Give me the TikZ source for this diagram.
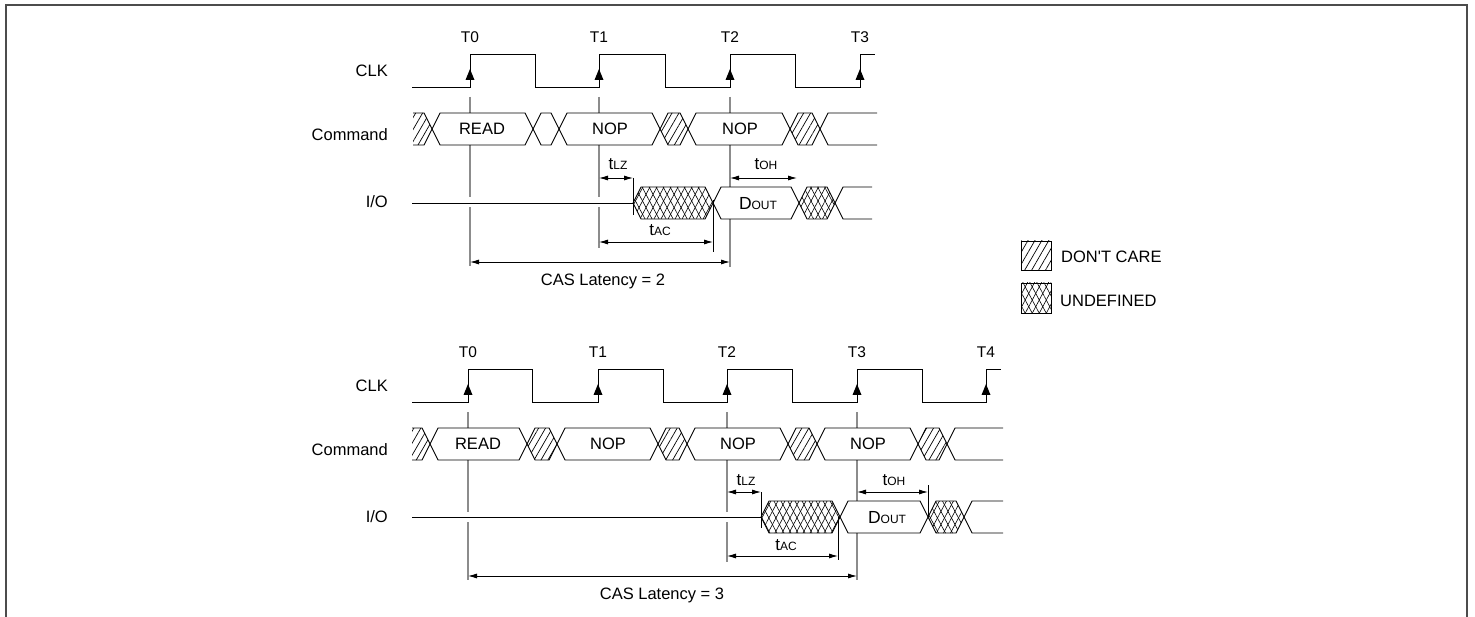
\documentclass[tikz,border=0pt]{standalone}
\usepackage{fontspec}
\setmainfont{Liberation Sans}
\usetikzlibrary{arrows.meta,patterns.meta}
\definecolor{refgray}{gray}{0.55}
\definecolor{framegray}{gray}{0.3}
\newcommand\sbs[1]{{\fontsize{12}{12}\selectfont #1}}
% hexagon: [style]{left vertex}{right vertex}{centre y}
\newcommand\hexa[4][]{\draw[sig,#1] (#2,#4) -- ({#2+8},{#4-16}) -- ({#3-8},{#4-16}) -- (#3,#4) -- ({#3-8},{#4+16}) -- ({#2+8},{#4+16}) -- cycle;}
\begin{document}
\begin{tikzpicture}[x=1pt,y=-1pt,
  sig/.style={line width=0.9pt,black,line join=miter},
  refl/.style={line width=1.3pt,refgray},
  dim/.style={line width=0.8pt,{Latex[length=9pt,width=5pt]}-{Latex[length=9pt,width=5pt]}},
  lab/.style={font=\fontsize{16.5}{19}\selectfont,inner sep=0pt,text depth=0pt},
  tl/.style={font=\fontsize{15.5}{18}\selectfont,inner sep=0pt,text depth=0pt},
  dc/.style={pattern={Lines[angle=60,distance=6pt,line width=0.7pt]}},
  ud/.style={pattern={Lines[angle=62,distance=6.2pt,line width=0.6pt]},
             postaction={pattern={Lines[angle=-62,distance=6.2pt,line width=0.6pt]}}}]
\useasboundingbox (0,0) rectangle (1475,617);
% frame
\draw[line width=1.5pt,framegray] (6,617) -- (6,5) -- (1467,5) -- (1467,617);

% ================= TOP DIAGRAM =================
\node[lab,anchor=east] (clkA) at (388,71) {CLK};
\node[lab,anchor=east] (cmdA) at (388,135) {Command};
\node[lab,anchor=east] (ioA) at (388,202) {I/O};
\foreach \x/\t in {470/T0,599/T1,730/T2,860/T3}
  \node[tl] (tA\t) at (\x,37) {\t};
% clock
\draw[sig] (412,87) -- (470,87) -- (470,54) -- (535,54) -- (535,87) -- (599,87) -- (599,54)
  -- (665,54) -- (665,87) -- (730,87) -- (730,54) -- (795,54) -- (795,87) -- (860,87)
  -- (860,54) -- (875,54);
\foreach \x in {470,599,730,860}
  \fill (\x,69) -- ({\x-4.5},80) -- ({\x+4.5},80) -- cycle;
% reference lines
\foreach \x in {470,599,730} \draw[refl] (\x,97) -- (\x,113);
\draw[refl] (470,145) -- (470,197) (470,207) -- (470,266);
\draw[refl] (599,145) -- (599,197) (599,207) -- (599,248);
\draw[refl] (730,145) -- (730,187) (730,219) -- (730,267);
% command bus
\fill[dc] (413,113) -- (424,113) -- (432,129) -- (424,145) -- (413,145) -- cycle;
\draw[sig] (413,113) -- (424,113) -- (432,129) -- (424,145) -- (413,145);
\hexa{432}{533}{129}
\hexa{533}{559}{129}
\hexa{559}{660}{129}
\hexa[dc]{660}{688}{129}
\hexa{688}{790}{129}
\hexa[dc]{790}{820}{129}
\draw[sig] (877,113) -- (828,113) -- (820,129) -- (828,145) -- (877,145);
\node[lab] (readA) at (482,129) {READ};
\node[lab] (nopA1) at (610,129) {NOP};
\node[lab] (nopA2) at (740,129) {NOP};
% I/O
\draw[sig] (412,203) -- (633,203);
\hexa[ud]{633}{713}{203}
\hexa{713}{799}{203}
\hexa[ud]{799}{835}{203}
\draw[sig] (872,187) -- (843,187) -- (835,203) -- (843,219) -- (872,219);
\node[lab,font=\fontsize{17.5}{20}\selectfont] (doutA) at (758,203) {D\sbs{OUT}};
% timing marks
\draw[sig] (633,178) -- (633,215);
\draw[sig] (713,200) -- (713,252);
\coordinate (lzA1) at (599,178); \coordinate (lzA2) at (633,178);
\coordinate (ohA1) at (730,178); \coordinate (ohA2) at (797,178);
\coordinate (acA1) at (599,242); \coordinate (acA2) at (713,242);
\coordinate (clA1) at (470,262); \coordinate (clA2) at (730,262);
\draw[dim] (lzA1) -- (lzA2);
\draw[dim] (ohA1) -- (ohA2);
\draw[dim] (acA1) -- (acA2);
\draw[dim] (clA1) -- (clA2);
\node[lab,font=\fontsize{17}{20}\selectfont] (tlzA) at (618,164) {t\sbs{LZ}};
\node[lab,font=\fontsize{17}{20}\selectfont] (tohA) at (766,164) {t\sbs{OH}};
\node[lab,font=\fontsize{17}{20}\selectfont] (tacA) at (660,230) {t\sbs{AC}};
\node[lab] (casA) at (603,280) {CAS Latency = 2};

% ================= LEGEND =================
\draw[sig,dc] (1021,241) rectangle (1051,270);
\draw[sig,ud] (1021,283) rectangle (1051,313);
\node[lab,anchor=west] (ldc) at (1061,257) {DON\textquotesingle T CARE};
\node[lab,anchor=west] (lud) at (1060,301) {UNDEFINED};

% ================= BOTTOM DIAGRAM =================
\node[lab,anchor=east] (clkB) at (388,386) {CLK};
\node[lab,anchor=east] (cmdB) at (388,450) {Command};
\node[lab,anchor=east] (ioB) at (388,517) {I/O};
\foreach \x/\t in {468/T0,598/T1,727/T2,857/T3,986/T4}
  \node[tl] (tB\t) at (\x,352) {\t};
\draw[sig] (412,402) -- (468,402) -- (468,369) -- (532,369) -- (532,402) -- (598,402) -- (598,369)
  -- (663,369) -- (663,402) -- (727,402) -- (727,369) -- (792,369) -- (792,402) -- (857,402)
  -- (857,369) -- (922,369) -- (922,402) -- (986,402) -- (986,369) -- (1001,369);
\foreach \x in {468,598,727,857,986}
  \fill (\x,384) -- ({\x-4.5},395) -- ({\x+4.5},395) -- cycle;
\foreach \x in {468,727,857} \draw[refl] (\x,412) -- (\x,428);
\draw[refl] (468,460) -- (468,512) (468,522) -- (468,580);
\draw[refl] (727,460) -- (727,512) (727,522) -- (727,562);
\draw[refl] (857,460) -- (857,501) (857,533) -- (857,580);
% command bus
\fill[dc] (412,428) -- (422,428) -- (430,444) -- (422,460) -- (412,460) -- cycle;
\draw[sig] (412,428) -- (422,428) -- (430,444) -- (422,460) -- (412,460);
\hexa{430}{527}{444}
\hexa[dc]{527}{557}{444}
\hexa{557}{658}{444}
\hexa[dc]{658}{687}{444}
\hexa{687}{788}{444}
\hexa[dc]{788}{817}{444}
\hexa{817}{918}{444}
\hexa[dc]{918}{947}{444}
\draw[sig] (1003,428) -- (955,428) -- (947,444) -- (955,460) -- (1003,460);
\node[lab] (readB) at (478,444) {READ};
\node[lab] (nopB1) at (608,444) {NOP};
\node[lab] (nopB2) at (738,444) {NOP};
\node[lab] (nopB3) at (868,444) {NOP};
% I/O
\draw[sig] (412,517) -- (761,517);
\hexa[ud]{761}{840}{517}
\hexa{840}{928}{517}
\hexa[ud]{928}{964}{517}
\draw[sig] (1003,501) -- (972,501) -- (964,517) -- (972,533) -- (1003,533);
\node[lab,font=\fontsize{17.5}{20}\selectfont] (doutB) at (887,517) {D\sbs{OUT}};
\draw[sig] (761,492) -- (761,528);
\draw[sig] (838,517) -- (838,560);
\draw[sig] (928,485) -- (928,517);
\coordinate (lzB1) at (727,492); \coordinate (lzB2) at (761,492);
\coordinate (ohB1) at (857,492); \coordinate (ohB2) at (928,492);
\coordinate (acB1) at (727,556); \coordinate (acB2) at (838,556);
\coordinate (clB1) at (468,576); \coordinate (clB2) at (857,576);
\draw[dim] (lzB1) -- (lzB2);
\draw[dim] (ohB1) -- (ohB2);
\draw[dim] (acB1) -- (acB2);
\draw[dim] (clB1) -- (clB2);
\node[lab,font=\fontsize{17}{20}\selectfont] (tlzB) at (746,480) {t\sbs{LZ}};
\node[lab,font=\fontsize{17}{20}\selectfont] (tohB) at (894,480) {t\sbs{OH}};
\node[lab,font=\fontsize{17}{20}\selectfont] (tacB) at (786,545) {t\sbs{AC}};
\node[lab] (casB) at (662,594) {CAS Latency = 3};
\end{tikzpicture}
\end{document}
